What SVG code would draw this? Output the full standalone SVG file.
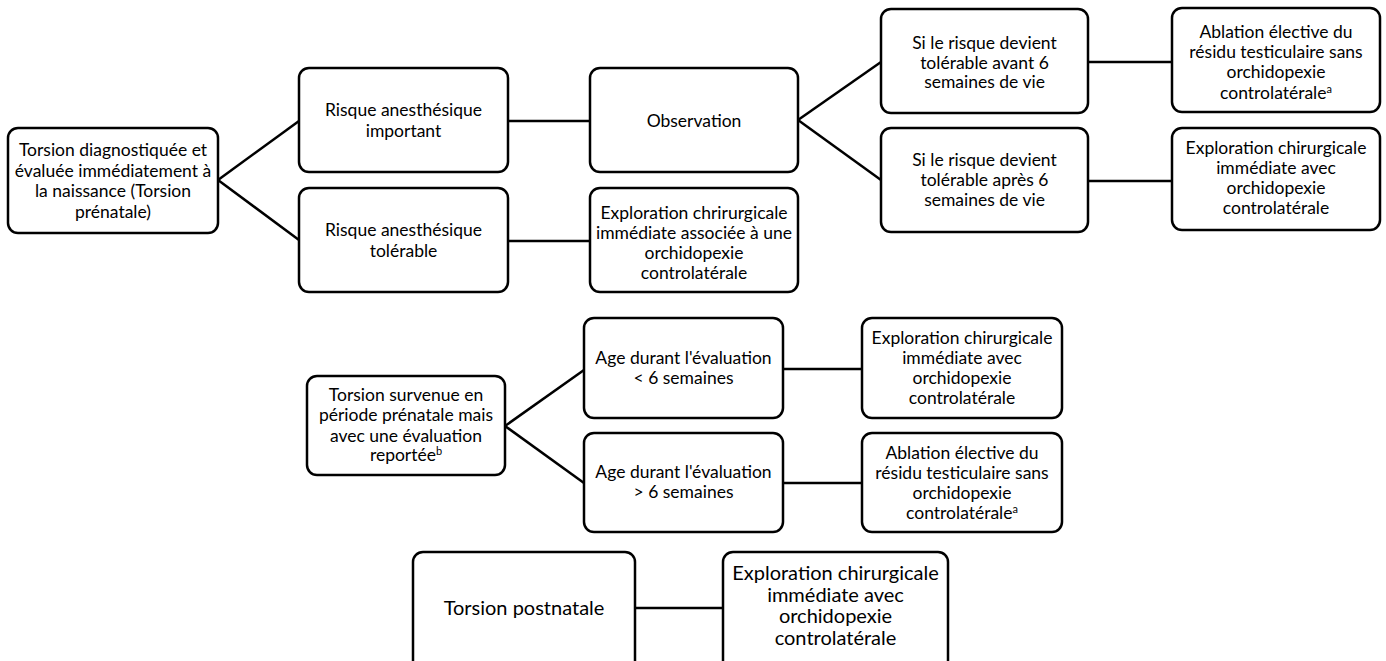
<svg xmlns="http://www.w3.org/2000/svg" width="1386" height="661" viewBox="0 0 1386 661">
<style>
.box{fill:#fff;stroke:#000;stroke-width:2.5}
.t{font-family:Lato,"Open Sans","Liberation Sans",sans-serif;font-size:17.5px;fill:#000;text-anchor:middle}
.tb{font-family:Lato,"Open Sans","Liberation Sans",sans-serif;font-size:20px;fill:#000;text-anchor:middle}
.sup{font-size:11px}
.c{stroke:#000;stroke-width:2.5;fill:none}
</style>
<rect width="1386" height="661" fill="#fff"/>
<g id="connectors">
<line class="c" x1="218" y1="180" x2="299" y2="121"/>
<line class="c" x1="218" y1="180" x2="299" y2="240"/>
<line class="c" x1="508" y1="121" x2="590" y2="121"/>
<line class="c" x1="508" y1="241" x2="590" y2="241"/>
<line class="c" x1="798" y1="120" x2="881" y2="62"/>
<line class="c" x1="798" y1="120" x2="881" y2="180"/>
<line class="c" x1="1088" y1="62" x2="1172" y2="62"/>
<line class="c" x1="1088" y1="181" x2="1172" y2="181"/>
<line class="c" x1="505" y1="426" x2="584" y2="370"/>
<line class="c" x1="505" y1="426" x2="584" y2="483"/>
<line class="c" x1="783" y1="369" x2="862" y2="369"/>
<line class="c" x1="783" y1="483" x2="862" y2="483"/>
<line class="c" x1="635" y1="608" x2="723" y2="608"/>
</g>
<g id="n1"><rect class="box" x="8" y="128" width="210" height="105" rx="10"/>
<text class="t"><tspan x="113" y="156">Torsion diagnostiquée et</tspan><tspan x="113" y="176.5">évaluée immédiatement à</tspan><tspan x="113" y="197">la naissance (Torsion</tspan><tspan x="113" y="217.5">prénatale)</tspan></text></g>
<g id="n2"><rect class="box" x="299" y="68" width="209" height="104" rx="10"/>
<text class="t"><tspan x="403.5" y="116">Risque anesthésique</tspan><tspan x="403.5" y="137">important</tspan></text></g>
<g id="n3"><rect class="box" x="299" y="188" width="209" height="104" rx="10"/>
<text class="t"><tspan x="403.5" y="236">Risque anesthésique</tspan><tspan x="403.5" y="257">tolérable</tspan></text></g>
<g id="n4"><rect class="box" x="590" y="68" width="208" height="104" rx="10"/>
<text class="t"><tspan x="694" y="127">Observation</tspan></text></g>
<g id="n5"><rect class="box" x="590" y="188" width="208" height="104" rx="10"/>
<text class="t"><tspan x="694" y="219">Exploration chrirurgicale</tspan><tspan x="694" y="239">immédiate associée à une</tspan><tspan x="694" y="259">orchidopexie</tspan><tspan x="694" y="279">controlatérale</tspan></text></g>
<g id="n6"><rect class="box" x="881" y="9" width="207" height="104" rx="10"/>
<text class="t"><tspan x="984.5" y="49">Si le risque devient</tspan><tspan x="984.5" y="68.5">tolérable avant 6</tspan><tspan x="984.5" y="88">semaines de vie</tspan></text></g>
<g id="n7"><rect class="box" x="881" y="128" width="207" height="104" rx="10"/>
<text class="t"><tspan x="984.5" y="166">Si le risque devient</tspan><tspan x="984.5" y="186">tolérable après 6</tspan><tspan x="984.5" y="206">semaines de vie</tspan></text></g>
<g id="n8"><rect class="box" x="1172" y="8" width="208" height="104" rx="10"/>
<text class="t"><tspan x="1276" y="38">Ablation élective du</tspan><tspan x="1276" y="58">résidu testiculaire sans</tspan><tspan x="1276" y="78">orchidopexie</tspan><tspan x="1276" y="98.5">controlatérale<tspan class="sup" dy="-6">a</tspan></tspan></text></g>
<g id="n9"><rect class="box" x="1172" y="128" width="208" height="102" rx="10"/>
<text class="t"><tspan x="1276" y="154">Exploration chirurgicale</tspan><tspan x="1276" y="174">immédiate avec</tspan><tspan x="1276" y="194">orchidopexie</tspan><tspan x="1276" y="214">controlatérale</tspan></text></g>
<g id="n10"><rect class="box" x="307" y="376" width="198" height="99" rx="10"/>
<text class="t"><tspan x="406" y="401">Torsion survenue en</tspan><tspan x="406" y="421">période prénatale mais</tspan><tspan x="406" y="441.5">avec une évaluation</tspan><tspan x="406" y="461">reportée<tspan class="sup" dy="-6">b</tspan></tspan></text></g>
<g id="n11"><rect class="box" x="584" y="318" width="199" height="100" rx="10"/>
<text class="t"><tspan x="683.5" y="364">Age durant l'évaluation</tspan><tspan x="683.5" y="384">&lt; 6 semaines</tspan></text></g>
<g id="n12"><rect class="box" x="584" y="433" width="199" height="99" rx="10"/>
<text class="t"><tspan x="683.5" y="478">Age durant l'évaluation</tspan><tspan x="683.5" y="498">&gt; 6 semaines</tspan></text></g>
<g id="n13"><rect class="box" x="862" y="318" width="200" height="100" rx="10"/>
<text class="t"><tspan x="962" y="344">Exploration chirurgicale</tspan><tspan x="962" y="364">immédiate avec</tspan><tspan x="962" y="384">orchidopexie</tspan><tspan x="962" y="404">controlatérale</tspan></text></g>
<g id="n14"><rect class="box" x="862" y="433" width="200" height="99" rx="10"/>
<text class="t"><tspan x="962" y="459">Ablation élective du</tspan><tspan x="962" y="479">résidu testiculaire sans</tspan><tspan x="962" y="499">orchidopexie</tspan><tspan x="962" y="519">controlatérale<tspan class="sup" dy="-6">a</tspan></tspan></text></g>
<g id="n15"><rect class="box" x="413" y="552" width="222" height="120" rx="10"/>
<text class="tb"><tspan x="524" y="615">Torsion postnatale</tspan></text></g>
<g id="n16"><rect class="box" x="723" y="552" width="225" height="120" rx="10"/>
<text class="tb"><tspan x="835.5" y="580">Exploration chirurgicale</tspan><tspan x="835.5" y="601.5">immédiate avec</tspan><tspan x="835.5" y="623">orchidopexie</tspan><tspan x="835.5" y="644.5">controlatérale</tspan></text></g>
</svg>
